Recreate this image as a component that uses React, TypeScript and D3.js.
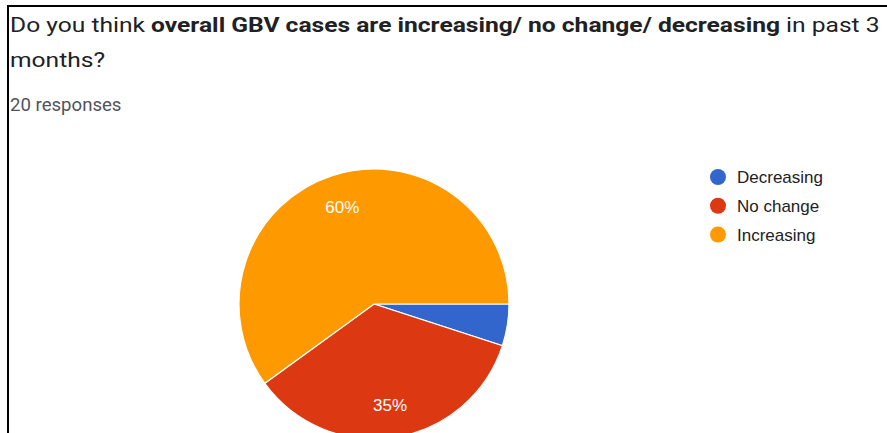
import { useEffect, useRef } from 'react'
import * as d3 from 'd3'

// answers in the order Google draws them (clockwise from 3 o'clock)
const categories = ['Decreasing', 'No change', 'Increasing']
const responses = [1, 7, 12]
const colors = ['#3366cc', '#dc3912', '#ff9900']
const totalResponses = 20

const titlePlain1 = 'Do you think '
const titleBold = 'overall GBV cases are increasing/ no change/ decreasing'
const titlePlain2 = ' in past 3'
const titleLine2 = 'months?'

export default function App() {
  const svgRef = useRef<SVGSVGElement>(null)

  useEffect(() => {
    if (!svgRef.current) return
    const svg = d3.select(svgRef.current)
    svg.selectAll('*').remove()

    const width = 887
    const height = 433
    svg.attr('width', width).attr('height', height)

    svg.append('rect').attr('width', width).attr('height', height).attr('fill', '#fff')

    // card border (left + top)
    svg.append('line')
      .attr('x1', 7).attr('x2', width).attr('y1', 6).attr('y2', 6)
      .attr('stroke', '#000').attr('stroke-width', 2)
    svg.append('line')
      .attr('x1', 8).attr('x2', 8).attr('y1', 5).attr('y2', height)
      .attr('stroke', '#000').attr('stroke-width', 2)

    // title (screenshot is a bit stretched sideways)
    const titleG = svg.append('g')
      .attr('transform', 'translate(10,0) scale(1.23,1)')
      .attr('font-family', 'Roboto, sans-serif')
      .attr('fill', '#202124')
    const t1 = titleG.append('text').attr('x', 0).attr('y', 32).attr('font-size', 20)
    t1.append('tspan').text(titlePlain1)
    t1.append('tspan').attr('font-weight', 'bold').text(titleBold)
    t1.append('tspan').text(titlePlain2)
    titleG.append('text').attr('x', 0).attr('y', 67).attr('font-size', 20).text(titleLine2)

    svg.append('text')
      .attr('x', 10)
      .attr('y', 111)
      .attr('font-family', 'Roboto, sans-serif')
      .attr('font-size', 18.6)
      .attr('fill', '#50545a')
      .text(`${totalResponses} responses`)

    // pie
    const cx = 374
    const cy = 304
    const radius = 135
    const color = d3.scaleOrdinal<string>().domain(categories).range(colors)
    const pie = d3.pie<number>()
      .sort(null)
      .startAngle(Math.PI / 2)
      .endAngle(Math.PI / 2 + 2 * Math.PI)
    const arcs = pie(responses)
    const arc = d3.arc<d3.PieArcDatum<number>>().innerRadius(0).outerRadius(radius)
    const labelArc = d3.arc<d3.PieArcDatum<number>>().innerRadius(radius * 0.76).outerRadius(radius * 0.76)

    const pieG = svg.append('g').attr('transform', `translate(${cx},${cy})`)
    pieG.selectAll('path')
      .data(arcs)
      .enter()
      .append('path')
      .attr('d', arc)
      .attr('fill', (_, i) => color(categories[i]))
      .attr('stroke', '#fff')
      .attr('stroke-width', 1.2)

    const sum = d3.sum(responses)
    pieG.selectAll('.slice-label')
      .data(arcs.filter(d => d.value / sum >= 0.1))
      .enter()
      .append('text')
      .attr('class', 'slice-label')
      .attr('transform', d => `translate(${labelArc.centroid(d)})`)
      .attr('text-anchor', 'middle')
      .attr('dy', '0.36em')
      .attr('font-family', 'Arial, "Liberation Sans", sans-serif')
      .attr('font-size', 17)
      .attr('fill', '#fff')
      .text(d => `${Math.round((d.value / sum) * 100)}%`)

    // legend
    const legendY = d3.scalePoint<string>().domain(categories).range([177, 234.5])
    const legend = svg.append('g')
      .attr('font-family', 'Arial, "Liberation Sans", sans-serif')
      .attr('font-size', 17)
    const rows = legend.selectAll('g')
      .data(categories)
      .enter()
      .append('g')
      .attr('transform', d => `translate(718,${legendY(d)})`)
    rows.append('circle').attr('r', 8).attr('fill', d => color(d))
    rows.append('text')
      .attr('x', 19)
      .attr('dy', '0.36em')
      .attr('fill', '#222')
      .text(d => d)
  }, [])

  return (
    <svg ref={svgRef} style={{ position: 'absolute', left: 0, top: 0, display: 'block' }} />
  )
}
